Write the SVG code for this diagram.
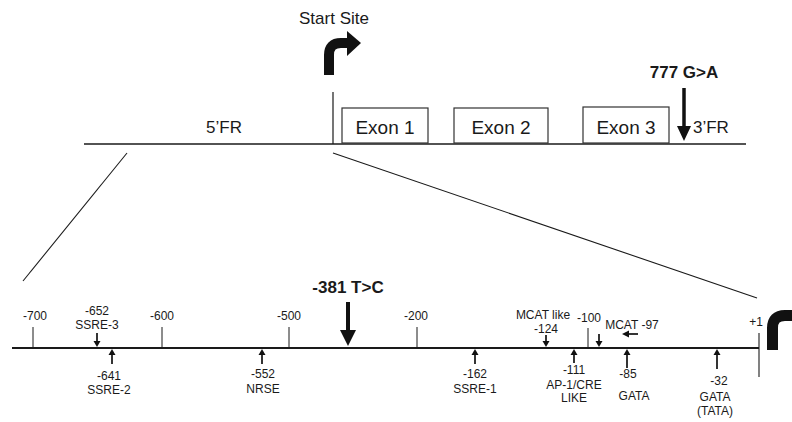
<svg xmlns="http://www.w3.org/2000/svg" width="792" height="422" viewBox="0 0 792 422">
<defs>
<style>
.t{font-family:"Liberation Sans",Arial,sans-serif;fill:#1a1a1a;}
.s{font-size:12px;text-anchor:middle;}
.m{font-size:19px;text-anchor:middle;}
.b{font-weight:bold;text-anchor:middle;font-size:17px;}
.ln{stroke:#1a1a1a;fill:none;}
.box{fill:#fff;stroke:#333;stroke-width:1.2;}
.ar{stroke:#111;stroke-width:1.7;fill:none;}
.hd{fill:#111;}
</style>
</defs>
<rect width="792" height="422" fill="#fff"/>

<g id="connectors">
<line class="ln" x1="84" y1="144" x2="746" y2="144" stroke-width="1.3"/>
<line class="ln" x1="333" y1="92" x2="333" y2="144" stroke-width="1.2"/>
<line class="ln" x1="127" y1="153" x2="23" y2="281" stroke-width="1.1"/>
<line class="ln" x1="333" y1="153" x2="757" y2="298" stroke-width="1.1"/>
<line class="ln" x1="12" y1="348" x2="759" y2="348" stroke-width="2"/>
</g>

<g id="start-site">
<text class="t" x="334" y="24" font-size="17" text-anchor="middle">Start Site</text>
<path d="M329,75 V55 Q329,43 341,43 H349" stroke="#111" stroke-width="10" fill="none"/>
<polygon class="hd" points="347,31 361,43 347,56"/>
</g>

<g id="fr5"><text class="t" x="224" y="133" font-size="17" text-anchor="middle">5’FR</text></g>
<g id="exon1"><rect class="box" x="342" y="108" width="86" height="35"/><text class="t m" x="385" y="134">Exon 1</text></g>
<g id="exon2"><rect class="box" x="454" y="108" width="94" height="35"/><text class="t m" x="501" y="134">Exon 2</text></g>
<g id="exon3"><rect class="box" x="583" y="107" width="86" height="36"/><text class="t m" x="626" y="134">Exon 3</text></g>
<g id="fr3"><text class="t" x="693" y="133" font-size="17">3’FR</text></g>

<g id="snp777">
<text class="t b" x="684" y="78">777 G&gt;A</text>
<line x1="684" y1="88" x2="684" y2="128" stroke="#111" stroke-width="3.5"/>
<polygon class="hd" points="677,126 691,126 684,141"/>
</g>

<g id="ticks">
<line class="ln" x1="33" y1="327" x2="33" y2="348" stroke-width="1"/><text class="t s" x="35" y="320">-700</text>
<line class="ln" x1="162" y1="327" x2="162" y2="348" stroke-width="1"/><text class="t s" x="162" y="320">-600</text>
<line class="ln" x1="289" y1="327" x2="289" y2="348" stroke-width="1"/><text class="t s" x="289" y="320">-500</text>
<line class="ln" x1="417" y1="327" x2="417" y2="348" stroke-width="1"/><text class="t s" x="416" y="320">-200</text>
<line class="ln" x1="588" y1="328" x2="588" y2="348" stroke-width="1"/><text class="t s" x="589" y="322">-100</text>
<line class="ln" x1="759" y1="333" x2="759" y2="377" stroke-width="1.1"/><text class="t s" x="756" y="326">+1</text>
</g>

<g id="snp381">
<text class="t b" x="348" y="293">-381 T&gt;C</text>
<line x1="348" y1="302" x2="348" y2="332" stroke="#111" stroke-width="4"/>
<polygon class="hd" points="340,330 356,330 348,346"/>
</g>

<g id="ssre3">
<text class="t s" x="97" y="315">-652</text><text class="t s" x="97" y="329">SSRE-3</text>
<line class="ar" x1="97" y1="333" x2="97" y2="342"/><polygon class="hd" points="93.5,341 100.5,341 97,347"/>
</g>
<g id="ssre2">
<line class="ar" x1="112" y1="354" x2="112" y2="364"/><polygon class="hd" points="108.5,355 115.5,355 112,349"/>
<text class="t s" x="109" y="380">-641</text><text class="t s" x="109" y="394">SSRE-2</text>
</g>
<g id="nrse">
<line class="ar" x1="262" y1="354" x2="262" y2="364"/><polygon class="hd" points="258.5,355 265.5,355 262,349"/>
<text class="t s" x="263" y="378">-552</text><text class="t s" x="263" y="393">NRSE</text>
</g>
<g id="ssre1">
<line class="ar" x1="475" y1="354" x2="475" y2="364"/><polygon class="hd" points="471.5,355 478.5,355 475,349"/>
<text class="t s" x="475" y="378">-162</text><text class="t s" x="475" y="393">SSRE-1</text>
</g>
<g id="mcat-like">
<text class="t s" x="543" y="319">MCAT like</text><text class="t s" x="546" y="333">-124</text>
<line class="ar" x1="546" y1="335" x2="546" y2="342"/><polygon class="hd" points="542.5,341 549.5,341 546,347"/>
</g>
<g id="ap1">
<line class="ar" x1="574" y1="354" x2="574" y2="363"/><polygon class="hd" points="570.5,355 577.5,355 574,349"/>
<text class="t s" x="574" y="374">-111</text><text class="t s" x="574" y="389">AP-1/CRE</text><text class="t s" x="574" y="402">LIKE</text>
</g>
<g id="mcat97">
<line class="ar" x1="599" y1="334" x2="599" y2="342"/><polygon class="hd" points="595.5,341 602.5,341 599,347"/>
<text class="t s" x="632" y="329">MCAT -97</text>
<line class="ar" x1="628" y1="334" x2="638" y2="334"/><polygon class="hd" points="629,330.5 629,337.5 622,334"/>
</g>
<g id="gata85">
<line class="ar" x1="627" y1="354" x2="627" y2="368"/><polygon class="hd" points="623.5,355 630.5,355 627,349"/>
<text class="t s" x="628" y="378">-85</text><text class="t s" x="634" y="400">GATA</text>
</g>
<g id="gata32">
<line class="ar" x1="717" y1="354" x2="717" y2="369"/><polygon class="hd" points="713.5,355 720.5,355 717,349"/>
<text class="t s" x="719" y="385">-32</text><text class="t s" x="715" y="401">GATA</text><text class="t s" x="715" y="415">(TATA)</text>
</g>

<g id="tss-arrow">
<path d="M772.5,350 V328 Q772.5,315.5 785,315.5 H800" stroke="#111" stroke-width="11" fill="none"/>
</g>
</svg>
